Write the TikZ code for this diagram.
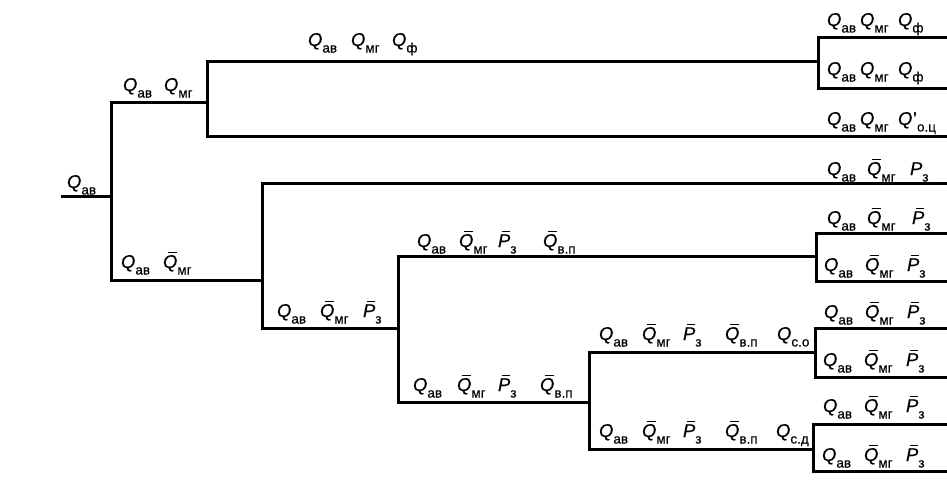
\documentclass[tikz,border=0pt]{standalone}
\usepackage{fontspec}
\setmainfont{Liberation Sans}[FakeBold=0.4]
\newcommand\Sb[1]{\raisebox{-6.5pt}{\fontsize{13.5}{14}\selectfont #1}}
\newcommand\OB[1]{\setbox0=\hbox{#1}\rlap{\kern0.32\wd0\raise\dimexpr\ht0+2pt\relax\hbox{\vrule width 0.62\wd0 height 1.4pt depth 0pt}}\box0}
\newcommand\Qs[1]{\textit{Q}\Sb{#1}}
\newcommand\Qp[1]{\textit{Q}\kern0.5pt'\Sb{#1}}
\newcommand\QB[1]{\OB{\textit{Q}}\Sb{#1}}
\newcommand\Ps[1]{\textit{P}\Sb{#1}}
\newcommand\PB[1]{\OB{\textit{P}}\Sb{#1}}
\newcommand\At[2]{\rlap{\hspace*{#1pt}#2}}
\tikzset{
  lab/.style={anchor=base west, inner sep=0pt, outer sep=0pt, font=\fontsize{18.5}{20}\selectfont},
  tree/.style={line width=3pt, line join=miter, line cap=rect, black}
}
\begin{document}
\begin{tikzpicture}[x=1pt, y=-1pt]
\useasboundingbox[fill=white] (0,0) rectangle (947,495);
% junction coordinates
\coordinate (r0) at (62,196);
\coordinate (j1) at (111,196);
\coordinate (j1t) at (111,102);
\coordinate (j1b) at (111,280);
\coordinate (j2) at (207,102);
\coordinate (j2t) at (207,62);
\coordinate (j2b) at (207,136);
\coordinate (j3) at (818,62);
\coordinate (j3t) at (818,38);
\coordinate (j3b) at (818,88);
\coordinate (e1) at (947,38);
\coordinate (e2) at (947,88);
\coordinate (e3) at (947,136);
\coordinate (j4) at (262,280);
\coordinate (j4t) at (262,183);
\coordinate (j4b) at (262,328);
\coordinate (e4) at (947,183);
\coordinate (j5) at (398,328);
\coordinate (j5t) at (398,256);
\coordinate (j5b) at (398,402);
\coordinate (j6) at (816,256);
\coordinate (j6t) at (816,233);
\coordinate (j6b) at (816,281);
\coordinate (e5) at (947,233);
\coordinate (e6) at (947,281);
\coordinate (j7) at (589,402);
\coordinate (j7t) at (589,352);
\coordinate (j7b) at (589,449);
\coordinate (j8) at (815,352);
\coordinate (j8t) at (815,328);
\coordinate (j8b) at (815,377);
\coordinate (e7) at (947,328);
\coordinate (e8) at (947,377);
\coordinate (j9) at (813,449);
\coordinate (j9t) at (813,424);
\coordinate (j9b) at (813,471);
\coordinate (e9) at (947,424);
\coordinate (e10) at (947,471);
% tree lines
\draw[tree] (r0) -- (j1);
\draw[tree] (j2) -- (j1t) -- (j1b) -- (j4);
\draw[tree] (j3) -- (j2t) -- (j2b) -- (e3);
\draw[tree] (e1) -- (j3t) -- (j3b) -- (e2);
\draw[tree] (j5) -- (j4b) -- (j4t) -- (e4);
\draw[tree] (j6) -- (j5t) -- (j5b) -- (j7);
\draw[tree] (e5) -- (j6t) -- (j6b) -- (e6);
\draw[tree] (j8) -- (j7t) -- (j7b) -- (j9);
\draw[tree] (e7) -- (j8t) -- (j8b) -- (e8);
\draw[tree] (e9) -- (j9t) -- (j9b) -- (e10);
% labels
\node[lab] (l3) at (67,188) {\Qs{ав}};
\node[lab] (l2) at (123,91) {\At{0}{\Qs{ав}}\At{41}{\Qs{мг}}\hspace*{70pt}};
\node[lab] (l1) at (308,46) {\At{0}{\Qs{ав}}\At{43}{\Qs{мг}}\At{84}{\Qs{ф}}\hspace*{110pt}};
\node[lab] (l4) at (827,26) {\At{0}{\Qs{ав}}\At{33}{\Qs{мг}}\At{71}{\Qs{ф}}\hspace*{108pt}};
\node[lab] (l5) at (827,75) {\At{0}{\Qs{ав}}\At{33}{\Qs{мг}}\At{71}{\Qs{ф}}\hspace*{108pt}};
\node[lab] (l6) at (827,125) {\At{0}{\Qs{ав}}\At{33}{\Qs{мг}}\At{71}{\Qp{о.ц}}\hspace*{118pt}};
\node[lab] (l18) at (121,268) {\At{0}{\Qs{ав}}\At{42}{\QB{мг}}\hspace*{72pt}};
\node[lab] (l7) at (827,175) {\At{0}{\Qs{ав}}\At{40}{\QB{мг}}\At{83}{\Ps{з}}\hspace*{104pt}};
\node[lab] (l8) at (827,224) {\At{0}{\Qs{ав}}\At{40}{\QB{мг}}\At{85}{\PB{з}}\hspace*{104pt}};
\node[lab] (l9) at (824,271) {\At{0}{\Qs{ав}}\At{41}{\QB{мг}}\At{83}{\PB{з}}\hspace*{104pt}};
\node[lab] (l19) at (277,317) {\At{0}{\Qs{ав}}\At{43}{\QB{мг}}\At{86}{\PB{з}}\hspace*{108pt}};
\node[lab] (l16) at (417,247) {\At{0}{\Qs{ав}}\At{42}{\QB{мг}}\At{81}{\PB{з}}\At{126}{\QB{в.п}}\hspace*{162pt}};
\node[lab] (l17) at (413,391) {\At{0}{\Qs{ав}}\At{44}{\QB{мг}}\At{85}{\PB{з}}\At{127}{\QB{в.п}}\hspace*{162pt}};
\node[lab] (l14) at (599,340) {\At{0}{\Qs{ав}}\At{43}{\QB{мг}}\At{84}{\PB{з}}\At{126}{\QB{в.п}}\At{178}{\Qs{с.о}}\hspace*{214pt}};
\node[lab] (l15) at (599,437) {\At{0}{\Qs{ав}}\At{43}{\QB{мг}}\At{84}{\PB{з}}\At{126}{\QB{в.п}}\At{177}{\Qs{с.д}}\hspace*{213pt}};
\node[lab] (l10) at (824,318) {\At{0}{\Qs{ав}}\At{41}{\QB{мг}}\At{83}{\PB{з}}\hspace*{104pt}};
\node[lab] (l11) at (823,366) {\At{0}{\Qs{ав}}\At{41}{\QB{мг}}\At{83}{\PB{з}}\hspace*{104pt}};
\node[lab] (l12) at (823,412) {\At{0}{\Qs{ав}}\At{41}{\QB{мг}}\At{83}{\PB{з}}\hspace*{104pt}};
\node[lab] (l13) at (822,461) {\At{0}{\Qs{ав}}\At{42}{\QB{мг}}\At{84}{\PB{з}}\hspace*{104pt}};
\end{tikzpicture}
\end{document}
